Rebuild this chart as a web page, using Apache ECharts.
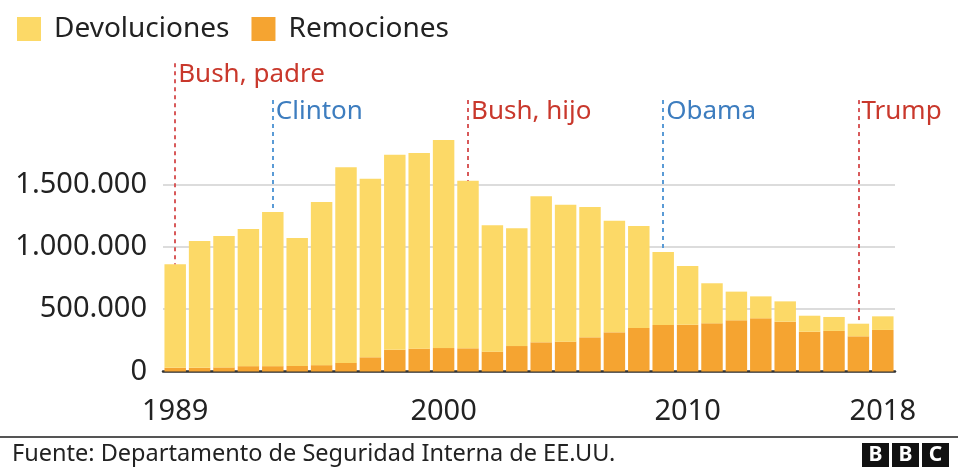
<!DOCTYPE html>
<html>
<head>
<meta charset="utf-8">
<script src="https://cdn.jsdelivr.net/npm/echarts@6/dist/echarts.min.js"></script>
<style>
  html, body { margin: 0; padding: 0; background: #fff; }
  #chart { width: 958px; height: 468px; }
</style>
</head>
<body>
<div id="chart"></div>
<script>
// datos (miles -> unidades)
const years = ['1989','1990','1991','1992','1993','1994','1995','1996','1997','1998',
  '1999','2000','2001','2002','2003','2004','2005','2006','2007','2008',
  '2009','2010','2011','2012','2013','2014','2015','2016','2017','2018']
const removals = [30000, 30000, 33000, 43000, 43000, 45000, 51000, 69000, 114000, 174000,
  183000, 188000, 186000, 159000, 204000, 234000, 239000, 274000, 314000, 349000,
  373000, 375000, 386000, 410000, 426000, 399000, 319000, 325000, 282000, 333000]
const returns = [830000, 1016000, 1053000, 1099000, 1235000, 1025000, 1307000, 1567000, 1431000, 1563000,
  1568000, 1667000, 1343000, 1012000, 943000, 1170000, 1098000, 1044000, 894000, 817000,
  585000, 470000, 321000, 230000, 176000, 163000, 128000, 112000, 101000, 109000]
const shownYears = ['1989', '2000', '2010', '2018']
const presidents = ['Bush, padre', 'Clinton', 'Bush, hijo', 'Obama', 'Trump']
const presidentYears = ['1989', '1993', '2001', '2009', '2017']
const presidentParty = ['R', 'D', 'R', 'D', 'R']

const RED = '#c9382c'
const BLUE = '#3d7dbf'
const FONT = '"Noto Sans", "Open Sans", sans-serif'

const fmt = v => String(v).replace(/\B(?=(\d{3})+(?!\d))/g, '.')

// altura de las etiquetas de presidentes (en unidades del eje)
const lineTop = i => (i === 0 ? 2470000 : 2175000)
const labelLevel = i => (i === 0 ? 2376000 : 2080000)

const chart = echarts.init(document.getElementById('chart'))

const presLines = presidents.map((p, i) => {
  const idx = years.indexOf(presidentYears[i])
  const red = presidentParty[i] === 'R'
  return [
    {
      coord: [presidentYears[i], lineTop(i)],
      lineStyle: { color: red ? '#d8595a' : '#5a9bd6', type: [4, 4], width: 2 }
    },
    { coord: [presidentYears[i], returns[idx] + removals[idx]] }
  ]
})

const presLabels = presidents.map((p, i) => ({
  name: p,
  coord: [presidentYears[i], labelLevel(i)],
  label: { color: presidentParty[i] === 'R' ? RED : BLUE }
}))

chart.setOption({
  animation: false,
  textStyle: { fontFamily: FONT },
  legend: {
    left: 12,
    top: 10,
    itemWidth: 24,
    itemHeight: 24,
    itemGap: 22,
    icon: 'rect',
    data: ['Devoluciones', 'Remociones'],
    textStyle: { fontSize: 28, color: '#222', fontFamily: FONT, padding: [0, 0, 0, 8] }
  },
  grid: { left: 163, right: 63, top: 59.5, bottom: 96.5 },
  xAxis: {
    type: 'category',
    data: years,
    axisLine: { lineStyle: { color: '#333', width: 2.5 } },
    axisTick: {
      alignWithLabel: true,
      length: 10,
      interval: i => shownYears.includes(years[i]),
      lineStyle: { color: '#333', width: 2 }
    },
    axisLabel: {
      interval: i => shownYears.includes(years[i]),
      fontSize: 29,
      color: '#222',
      margin: 26,
      fontFamily: FONT
    }
  },
  yAxis: {
    type: 'value',
    min: 0,
    max: 2500000,
    interval: 500000,
    axisLine: { show: false },
    axisTick: { show: false },
    splitLine: {
      lineStyle: {
        color: ['#d0d0d0', '#d0d0d0', '#d0d0d0', '#d0d0d0', 'rgba(0,0,0,0)', 'rgba(0,0,0,0)'],
        width: 1.5
      }
    },
    axisLabel: {
      formatter: v => (v > 1500000 ? '' : fmt(v)),
      fontSize: 29,
      color: '#222',
      margin: 16,
      fontFamily: FONT
    }
  },
  series: [
    {
      name: 'Remociones',
      type: 'bar',
      stack: 'total',
      barCategoryGap: '12%',
      itemStyle: { color: '#f5a431' },
      data: removals
    },
    {
      name: 'Devoluciones',
      type: 'bar',
      stack: 'total',
      barCategoryGap: '12%',
      itemStyle: { color: '#fcd967' },
      data: returns,
      markLine: {
        silent: true,
        symbol: 'none',
        label: { show: false },
        data: presLines
      },
      markPoint: {
        silent: true,
        symbolSize: 0,
        label: {
          show: true,
          position: 'right',
          distance: 3,
          formatter: '{b}',
          fontSize: 26,
          fontFamily: FONT
        },
        data: presLabels
      }
    }
  ],
  graphic: [
    { type: 'rect', left: 0, top: 436, shape: { width: 958, height: 2 }, style: { fill: '#555' } },
    {
      type: 'text', left: 12, top: 442,
      style: { text: 'Fuente: Departamento de Seguridad Interna de EE.UU.', fontSize: 23.5, fill: '#222', fontFamily: FONT }
    },
    {
      type: 'group', left: 862, top: 443,
      children: ['B', 'B', 'C'].flatMap((ch, i) => [
        { type: 'rect', shape: { x: i * 30, y: 0, width: 27, height: 24 }, style: { fill: '#111' } },
        {
          type: 'text', x: i * 30 + 13.5, y: 12,
          style: { text: ch, fontSize: 21, fontWeight: 'bold', fill: '#fff', align: 'center', verticalAlign: 'middle', fontFamily: FONT }
        }
      ])
    }
  ]
})
</script>
</body>
</html>
